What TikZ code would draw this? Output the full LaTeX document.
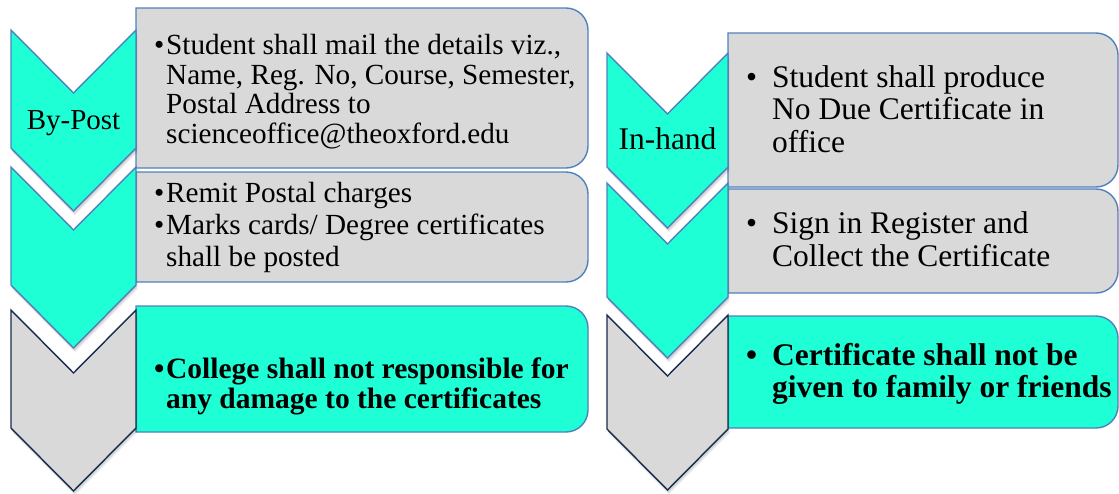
\documentclass[tikz,border=0pt]{standalone}
\usepackage{fontspec}
\setmainfont{Liberation Serif}

\definecolor{aqua}{RGB}{30,255,214}
\definecolor{panelgray}{RGB}{217,217,217}
\definecolor{edgeblue}{RGB}{79,129,189}
\definecolor{edgenavy}{RGB}{23,43,77}

% bullet set in a box of fixed width, so the text after it starts at a known x
\newcommand\bul[1]{\makebox[#1][l]{\textbullet}}

% chevron outline: x0, x1, top, side height, notch depth
\newcommand\chevshape[5]{(#1,#3) -- ({(#1+#2)/2},{#3+#5}) -- (#2,#3) -- (#2,{#3+#4})
  -- ({(#1+#2)/2},{#3+#4+#5}) -- (#1,{#3+#4}) -- cycle}

% chevron with soft shadow: x0, x1, top, side height, notch depth, fill, edge
\newcommand\chevron[7]{%
  \foreach \s in {1,...,5}{\fill[black,opacity=0.05,shift={(0.3*\s,0.9*\s)}] \chevshape{#1}{#2}{#3}{#4}{#5};}
  \draw[fill=#6,draw=#7,line width=1.4pt,line join=miter] \chevshape{#1}{#2}{#3}{#4}{#5};}

% text panel with rounded right corners: x0, x1, top, bottom, fill
\newcommand\panel[5]{%
  \draw[fill=#5,draw=edgeblue,line width=1.4pt] (#1,#3) -- ({#2-22},#3)
    arc[start angle=90,end angle=0,radius=22pt] -- (#2,{#4-22})
    arc[start angle=0,end angle=-90,radius=22pt] -- (#1,#4) -- cycle;}

\tikzset{
  ltxt/.style={anchor=base west,inner sep=0pt,font=\fontsize{29.2}{30}\selectfont},
  lbold/.style={ltxt,font=\fontsize{29.5}{30}\selectfont\bfseries},
  rtxt/.style={anchor=base west,inner sep=0pt,font=\fontsize{31.5}{32}\selectfont},
  rbold/.style={rtxt,font=\fontsize{31.5}{32}\selectfont\bfseries},
  tag/.style={anchor=base,inner sep=0pt}
}

\begin{document}
\begin{tikzpicture}[x=1pt,y=-1pt]
\useasboundingbox (0,0) rectangle (1119,493);

% ---- By-Post column ----
\panel{136}{588}{8}{168}{panelgray}
\panel{136}{588}{172}{282}{panelgray}
\panel{136}{588}{306}{432}{aqua}

\chevron{11}{136}{310}{118}{63}{panelgray}{edgenavy}
\chevron{11}{136}{167}{118}{63}{aqua}{edgeblue}
\chevron{11}{136}{30}{118}{63}{aqua}{edgeblue}

\node[tag,font=\fontsize{29}{30}\selectfont] (bypost) at (73.5,129) {By-Post};

\node[ltxt] (pa1) at (154,54)  {\bul{12pt}Student shall mail the details viz.,};
\node[ltxt] (pa2) at (166,84)  {Name, Reg. No, Course, Semester,};
\node[ltxt] (pa3) at (166,113) {Postal Address to};
\node[ltxt] (pa4) at (166,143) {scienceoffice@theoxford.edu};

\node[ltxt] (pb1) at (154,202) {\bul{12pt}Remit Postal charges};
\node[ltxt] (pb2) at (154,234) {\bul{12pt}Marks cards/ Degree certificates};
\node[ltxt] (pb3) at (166,266) {shall be posted};

\node[lbold] (pc1) at (154,378) {\bul{12pt}College shall not responsible for};
\node[lbold] (pc2) at (166,408) {any damage to the certificates};

% ---- In-hand column ----
\panel{728}{1118}{33}{187}{panelgray}
\panel{728}{1118}{189}{293}{panelgray}
\panel{728}{1118}{316}{428}{aqua}

\chevron{607}{728}{315}{114}{61}{panelgray}{edgenavy}
\chevron{607}{728}{183}{114}{61}{aqua}{edgeblue}
\chevron{607}{728}{53}{114}{61}{aqua}{edgeblue}

\node[tag,font=\fontsize{31.5}{32}\selectfont] (inhand) at (667.5,149) {In-hand};

\node[rtxt] (qa1) at (746,87)  {\bul{26pt}Student shall produce};
\node[rtxt] (qa2) at (772,119) {No Due Certificate in};
\node[rtxt] (qa3) at (772,152) {office};

\node[rtxt] (qb1) at (746,233) {\bul{26pt}Sign in Register and};
\node[rtxt] (qb2) at (772,266) {Collect the Certificate};

\node[rbold] (qc1) at (746,365) {\bul{26pt}Certificate shall not be};
\node[rbold] (qc2) at (772,397) {given to family or friends};
\end{tikzpicture}
\end{document}
